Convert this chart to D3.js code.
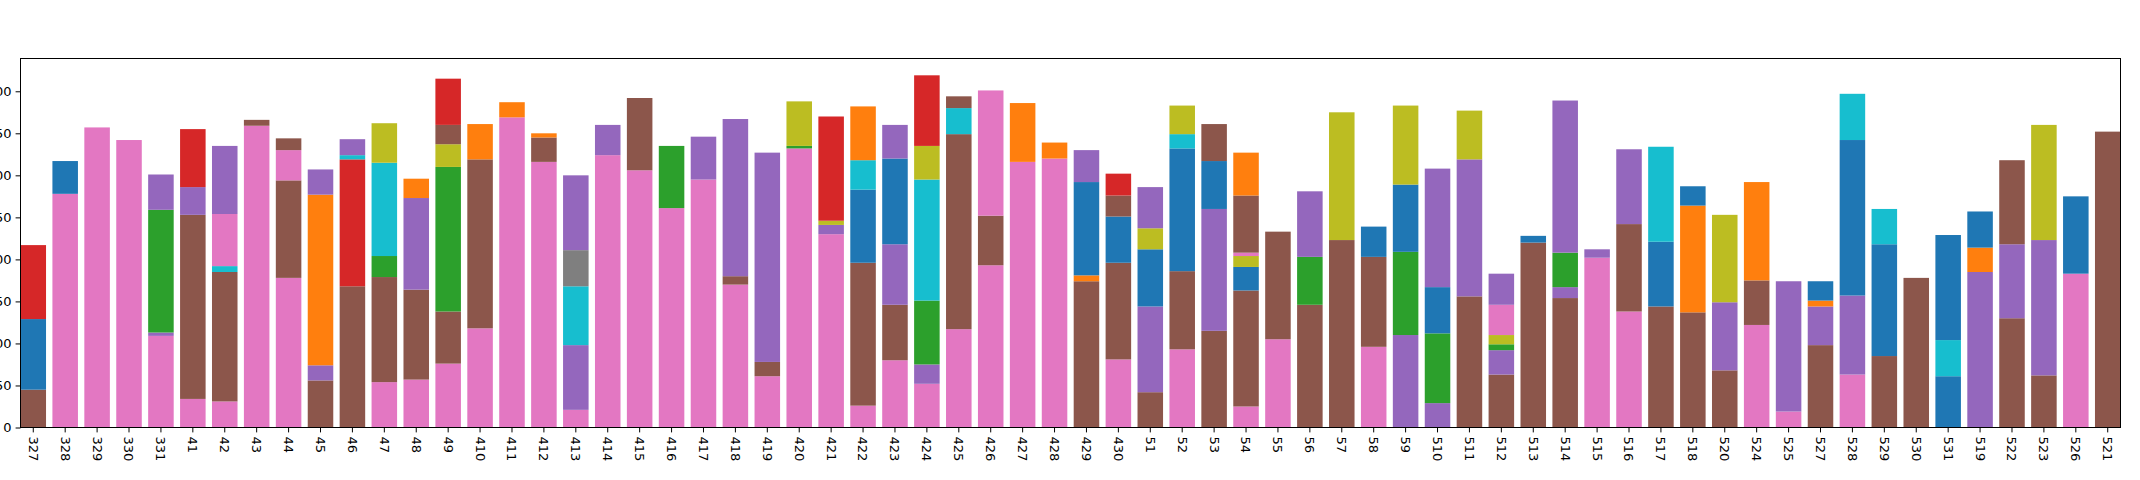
<!DOCTYPE html>
<html><head><meta charset="utf-8">
<script src="https://cdn.jsdelivr.net/npm/d3@7"></script>
<style>body{margin:0;background:#fff}svg{display:block}</style>
</head><body>
<svg id="c" width="2140" height="480"></svg>
<script>
const categories = ["327","328","329","330","331","41","42","43","44","45","46","47","48","49","410","411","412","413","414","415","416","417","418","419","420","421","422","423","424","425","426","427","428","429","430","51","52","53","54","55","56","57","58","59","510","511","512","513","514","515","516","517","518","520","524","525","527","528","529","530","531","519","522","523","526","521"];
// segment colour keys per bar, bottom to top
const segColors = [
 ["brown","blue","red"],["pink","blue"],["pink"],["pink"],["pink","purple","green","purple"],
 ["pink","brown","purple","red"],["pink","brown","cyan","pink","purple"],["pink","brown"],["pink","brown","pink","brown"],
 ["brown","purple","orange","purple"],["brown","red","cyan","purple"],["pink","brown","green","cyan","olive"],
 ["pink","brown","purple","orange"],["pink","brown","green","olive","brown","red"],["pink","brown","orange"],["pink","orange"],
 ["pink","brown","orange"],["pink","purple","cyan","gray","purple"],["pink","purple"],["pink","brown"],["pink","green"],["pink","purple"],
 ["pink","brown","purple"],["pink","brown","purple"],["pink","green","olive"],["pink","purple","olive","red"],
 ["pink","brown","blue","cyan","orange"],["pink","brown","purple","blue","purple"],["pink","purple","green","cyan","olive","red"],
 ["pink","brown","cyan","brown"],["pink","brown","pink"],["pink","orange"],["pink","orange"],["brown","orange","blue","purple"],
 ["pink","brown","blue","brown","red"],["brown","purple","blue","olive","purple"],["pink","brown","blue","cyan","olive"],
 ["brown","purple","blue","brown"],["pink","brown","blue","olive","pink","brown","orange"],["pink","brown"],["brown","green","purple"],
 ["brown","olive"],["pink","brown","blue"],["purple","green","blue","olive"],["purple","green","blue","purple"],["brown","purple","olive"],
 ["brown","purple","green","olive","pink","purple"],["brown","blue"],["brown","purple","green","purple"],["pink","purple"],
 ["pink","brown","purple"],["brown","blue","cyan"],["brown","orange","blue"],["brown","purple","olive"],["pink","brown","orange"],
 ["pink","purple"],["brown","purple","orange","blue"],["pink","purple","blue","cyan"],["brown","blue","cyan"],["brown"],
 ["blue","cyan","blue"],["purple","orange","blue"],["brown","purple","brown"],["brown","purple","olive"],["pink","blue"],["brown"]
];
// segment values per bar, bottom to top
const segValues = [
 [45,84,88],[278,39],[357],[342],[109,4,146,42],
 [34,219,33,69],[31,154,7,62,81],[359,7],[178,116,36,14],
 [56,18,203,30],[168,151,5,19],[54,125,25,111,47],
 [57,107,109,23],[76,62,172,27,23,55],[118,201,42],[369,18],
 [316,29,5],[21,77,70,43,89],[324,36],[306,86],[261,74],[295,51],
 [170,10,187],[61,17,249],[332,3,53],[230,11,5,124],
 [26,170,87,35,64],[80,66,72,102,40],[52,23,76,144,40,84],
 [117,232,31,14],[193,59,149],[316,70],[320,19],[174,7,111,38],
 [81,115,55,25,26],[42,102,68,25,49],[93,93,146,17,34],
 [115,145,57,44],[25,138,28,13,4,68,51],[105,128],[146,57,78],
 [223,152],[96,107,36],[110,99,80,94],[29,83,55,141],[156,163,58],
 [63,29,7,11,36,37],[220,8],[154,13,41,181],[202,10],
 [138,104,89],[144,77,113],[137,127,23],[68,81,104],[122,53,117],
 [19,155],[98,46,7,23],[63,94,185,55],[85,133,42],[178],
 [61,43,125],[185,29,43],[130,88,100],[62,161,137],[183,92],[352]
];
const yTicks = [0,50,100,150,200,250,300,350,400];
const palette = {blue:"#1f77b4",orange:"#ff7f0e",green:"#2ca02c",red:"#d62728",purple:"#9467bd",brown:"#8c564b",pink:"#e377c2",gray:"#7f7f7f",olive:"#bcbd22",cyan:"#17becf"};

const L=20.5,R=2120.5,T=58.5,B=427.5;
const svg=d3.select("#c");
const x=d3.scaleBand().domain(categories).range([L,R]).paddingInner(0.2).paddingOuter(0);
const y=d3.scaleLinear().domain([0,439]).range([B,T]);

const rects=[];
categories.forEach((c,i)=>{let base=0;segValues[i].forEach((v,j)=>{rects.push({c,y0:base,y1:base+v,col:segColors[i][j]});base+=v;});});
svg.append("g").selectAll("rect").data(rects).join("rect")
 .attr("x",d=>x(d.c)).attr("width",x.bandwidth())
 .attr("y",d=>y(d.y1)).attr("height",d=>y(d.y0)-y(d.y1))
 .attr("fill",d=>palette[d.col]);

const font="DejaVu Sans, sans-serif";
const xa=svg.append("g").attr("transform",`translate(0,${B})`).call(d3.axisBottom(x).tickSizeOuter(0).tickSize(4.9));
xa.select(".domain").remove();
xa.selectAll("text").attr("font-family",font).attr("font-size",13).attr("fill","#000")
 .attr("transform","rotate(90)").attr("text-anchor","start").attr("dy","0.35em").attr("x",9).attr("y",0);
const ya=svg.append("g").attr("transform",`translate(${L},0)`).call(d3.axisLeft(y).tickValues(yTicks).tickSize(4.9).tickPadding(4));
ya.select(".domain").remove();
ya.selectAll("text").attr("font-family",font).attr("font-size",13).attr("fill","#000");
svg.append("rect").attr("x",L).attr("y",T).attr("width",R-L).attr("height",B-T).attr("fill","none").attr("stroke","#000").attr("stroke-width",1);
</script>
</body></html>
